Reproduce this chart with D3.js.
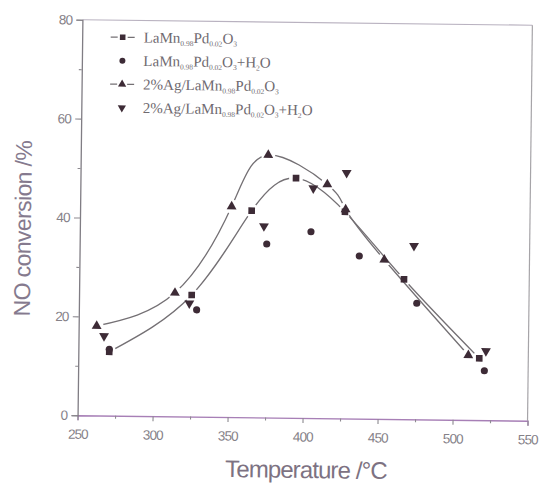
<!DOCTYPE html>
<html>
<head>
<meta charset="utf-8">
<script src="https://cdn.jsdelivr.net/npm/d3@7"></script>
<style>
  body { margin: 0; background: #fff; }
</style>
</head>
<body>
<svg id="chart" width="542" height="483"></svg>
<script>
// LaMnPdO3 (squares, with line)
const tempA = [270.6, 325.1, 364.4, 393.7, 426.6, 466.5, 517.3];
const convA = [12.9, 24.6, 41.8, 48.5, 41.8, 28.3, 12.5];
// LaMnPdO3 + H2O (circles)
const tempAw = [270.6, 328.5, 374.7, 404.1, 436.5, 475.2, 520.8];
const convAw = [13.4, 21.6, 35.1, 37.7, 32.9, 23.5, 10.0];
// 2%Ag/LaMnPdO3 (triangles, with line)
const tempB = [262.0, 313.9, 351.0, 375.0, 414.6, 427.0, 453.2, 510.0];
const convB = [18.1, 25.0, 42.6, 53.1, 47.3, 42.3, 32.2, 13.1];
// 2%Ag/LaMnPdO3 + H2O (down triangles)
const tempBw = [267.0, 323.6, 372.7, 405.3, 427.4, 472.9, 521.7];
const convBw = [16.1, 22.9, 38.7, 46.5, 49.7, 35.1, 14.0];

const xTicks = [250, 300, 350, 400, 450, 500, 550];
const xMinor = [275, 325, 375, 425, 475, 525];
const yTicks = [0, 20, 40, 60, 80];
const yMinor = [10, 30, 50, 70];

// legend labels: [text, subscript?]
const legendLabels = [
  [['LaMn', 0], ['0.98', 1], ['Pd', 0], ['0.02', 1], ['O', 0], ['3', 1]],
  [['LaMn', 0], ['0.98', 1], ['Pd', 0], ['0.02', 1], ['O', 0], ['3', 1], ['+H', 0], ['2', 1], ['O', 0]],
  [['2%Ag/LaMn', 0], ['0.98', 1], ['Pd', 0], ['0.02', 1], ['O', 0], ['3', 1]],
  [['2%Ag/LaMn', 0], ['0.98', 1], ['Pd', 0], ['0.02', 1], ['O', 0], ['3', 1], ['+H', 0], ['2', 1], ['O', 0]]
];

const pLeft = 80, pRight = 530, pTop = 22.5, pBottom = 418;
const ink = '#3d2b36';
const lineCol = '#747074';

const svg = d3.select('#chart');
// the scan is turned a little clockwise
const g = svg.append('g').attr('transform', 'rotate(0.7, 305, 218)');

const x = d3.scaleLinear().domain([250, 550]).range([pLeft, pRight]);
const y = d3.scaleLinear().domain([0, 80]).range([pBottom, pTop]);

const zip = (a, b) => a.map((v, i) => [v, b[i]]);
const seriesA = zip(tempA, convA);
const seriesAw = zip(tempAw, convAw);
const seriesB = zip(tempB, convB);
const seriesBw = zip(tempBw, convBw);

// frame
g.append('line').attr('x1', pLeft).attr('x2', pRight).attr('y1', pTop).attr('y2', pTop)
  .attr('stroke', '#b9b2c0').attr('stroke-width', 1.2);
g.append('line').attr('x1', pRight).attr('x2', pRight).attr('y1', pTop).attr('y2', pBottom)
  .attr('stroke', '#a6a4a8').attr('stroke-width', 1.2);

// x axis
const xAxis = g.append('g').attr('transform', `translate(0,${pBottom})`)
  .call(d3.axisBottom(x).tickValues(xTicks).tickSize(5).tickFormat(d3.format('d')));
g.append('g').attr('transform', `translate(0,${pBottom})`)
  .call(d3.axisBottom(x).tickValues(xMinor).tickSize(3).tickFormat(''))
  .call(a => a.select('.domain').remove());

// y axis
const yAxis = g.append('g').attr('transform', `translate(${pLeft},0)`)
  .call(d3.axisLeft(y).tickValues(yTicks).tickSize(6).tickFormat(d3.format('d')));
g.append('g').attr('transform', `translate(${pLeft},0)`)
  .call(d3.axisLeft(y).tickValues(yMinor).tickSize(3).tickFormat(''))
  .call(a => a.select('.domain').remove());

g.selectAll('.tick line').attr('stroke', '#8d8a90').attr('stroke-width', 1.1);
xAxis.select('.domain').attr('stroke', '#a77fb6').attr('stroke-width', 1.3);
yAxis.select('.domain').attr('stroke', '#807d84').attr('stroke-width', 1.3);
g.selectAll('.tick text')
  .attr('font-family', 'Liberation Sans, Arial, sans-serif')
  .attr('font-size', 13.5)
  .attr('letter-spacing', -0.9)
  .attr('fill', '#858188');
xAxis.selectAll('.tick text').attr('dy', '1.15em');
yAxis.selectAll('.tick text').attr('dx', '-0.1em');

// axis titles
g.append('text')
  .attr('x', 309).attr('y', 478)
  .attr('text-anchor', 'middle')
  .attr('font-family', 'Liberation Sans, Arial, sans-serif')
  .attr('font-size', 24)
  .attr('letter-spacing', -0.9)
  .attr('fill', '#7d7282')
  .text('Temperature /°C');

g.append('text')
  .attr('transform', 'translate(31,232) rotate(-90)')
  .attr('text-anchor', 'middle')
  .attr('font-family', 'Liberation Sans, Arial, sans-serif')
  .attr('font-size', 23)
  .attr('letter-spacing', -0.6)
  .attr('fill', '#857a8e')
  .text('NO conversion /%');

// fitted curves, broken near their own symbols
const curve = d3.line().x(d => x(d[0])).y(d => y(d[1])).curve(d3.curveNatural);
const defs = svg.append('defs');

function drawCurve(data, id) {
  const mask = defs.append('mask').attr('id', id).attr('maskUnits', 'userSpaceOnUse');
  mask.append('rect').attr('x', -50).attr('y', -50).attr('width', 650).attr('height', 600).attr('fill', '#fff');
  mask.selectAll('circle').data(data).enter().append('circle')
    .attr('cx', d => x(d[0])).attr('cy', d => y(d[1])).attr('r', 7).attr('fill', '#000');
  g.append('path')
    .datum(data)
    .attr('d', curve)
    .attr('fill', 'none')
    .attr('stroke', lineCol)
    .attr('stroke-width', 1.3)
    .attr('mask', `url(#${id})`);
}
drawCurve(seriesA, 'gapA');
drawCurve(seriesB, 'gapB');

// symbols
const shapes = [
  { data: seriesA, type: d3.symbolSquare, size: 44, rot: 0 },
  { data: seriesAw, type: d3.symbolCircle, size: 40, rot: 0 },
  { data: seriesB, type: d3.symbolTriangle, size: 42, rot: 0 },
  { data: seriesBw, type: d3.symbolTriangle, size: 42, rot: 180 }
];

shapes.forEach(s => {
  g.selectAll(null)
    .data(s.data)
    .enter()
    .append('path')
    .attr('d', d3.symbol().type(s.type).size(s.size))
    .attr('transform', d => `translate(${x(d[0])},${y(d[1])}) rotate(${s.rot})`)
    .attr('fill', ink);
});

// legend
const legend = g.append('g').attr('transform', 'translate(120.5,39.5)');
legendLabels.forEach((parts, i) => {
  const row = legend.append('g').attr('transform', `translate(0,${i * 23.5})`);
  const s = shapes[i];
  if (i === 0 || i === 2) {
    row.append('line').attr('x1', -12).attr('x2', -5).attr('stroke', lineCol).attr('stroke-width', 1.2);
    row.append('line').attr('x1', 5).attr('x2', 12).attr('stroke', lineCol).attr('stroke-width', 1.2);
  }
  row.append('path')
    .attr('d', d3.symbol().type(s.type).size(s.size * 0.7))
    .attr('transform', `rotate(${s.rot})`)
    .attr('fill', ink);
  const t = row.append('text')
    .attr('x', 21).attr('y', 5)
    .attr('font-family', 'Liberation Serif, Times New Roman, serif')
    .attr('font-size', 15)
    .attr('fill', '#6f6a70');
  parts.forEach(p => {
    t.append('tspan')
      .attr('font-size', p[1] ? 7.5 : 15)
      .attr('baseline-shift', p[1] ? -3 : 0)
      .text(p[0]);
  });
});
</script>
</body>
</html>
